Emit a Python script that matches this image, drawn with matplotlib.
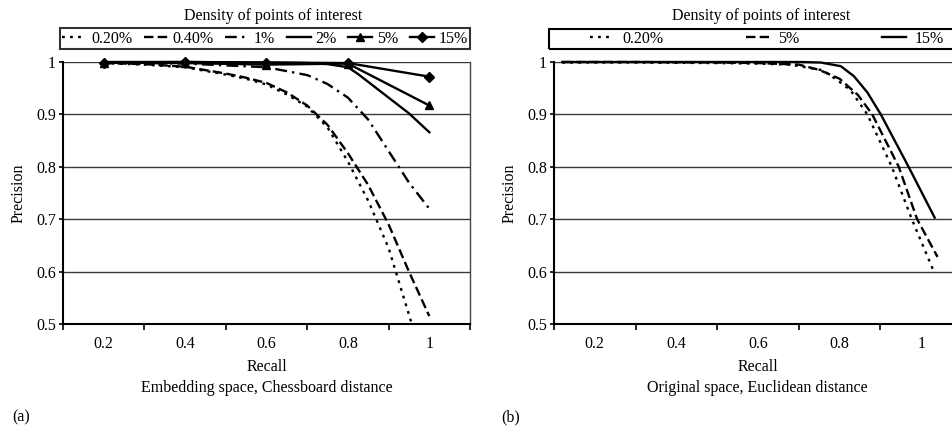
import matplotlib.pyplot as plt
from matplotlib.patches import Rectangle
from matplotlib.ticker import FixedLocator

plt.rcParams['font.family'] = ['Liberation Serif', 'DejaVu Serif']
plt.rcParams['font.size'] = 11.5

# -------------------------------
# Data
# -------------------------------
# (a) Embedding space, Chessboard distance
a_r_020 = [0.2, 0.3, 0.4, 0.5, 0.55, 0.6, 0.65, 0.7, 0.75, 0.8, 0.85, 0.9, 0.955]
a_p_020 = [0.998, 0.995, 0.99, 0.976, 0.968, 0.957, 0.938, 0.915, 0.875, 0.81, 0.735, 0.645, 0.505]

a_r_040 = [0.2, 0.3, 0.4, 0.5, 0.55, 0.6, 0.65, 0.7, 0.75, 0.8, 0.85, 0.9, 0.95, 1.0]
a_p_040 = [0.998, 0.996, 0.991, 0.978, 0.97, 0.96, 0.942, 0.917, 0.88, 0.826, 0.765, 0.69, 0.6, 0.515]

a_r_1 = [0.2, 0.4, 0.6, 0.7, 0.75, 0.8, 0.85, 0.9, 0.95, 1.0]
a_p_1 = [0.999, 0.997, 0.99, 0.975, 0.958, 0.932, 0.89, 0.83, 0.77, 0.72]

a_r_2 = [0.2, 0.4, 0.6, 0.7, 0.75, 0.8, 0.825, 0.85, 0.9, 0.95, 1.0]
a_p_2 = [1.0, 1.0, 0.999, 0.998, 0.996, 0.99, 0.977, 0.962, 0.932, 0.902, 0.866]

a_r_5 = [0.2, 0.4, 0.6, 0.8, 1.0]
a_p_5 = [0.999, 0.998, 0.995, 0.997, 0.917]

a_r_15 = [0.2, 0.4, 0.6, 0.8, 1.0]
a_p_15 = [0.999, 1.0, 0.999, 0.998, 0.972]

# (b) Original space, Euclidean distance
b_r_020 = [0.12, 0.3, 0.5, 0.6, 0.68, 0.76, 0.8, 0.827, 0.868, 0.928, 0.977, 1.031]
b_p_020 = [0.999, 0.999, 0.998, 0.997, 0.995, 0.984, 0.962, 0.946, 0.9, 0.8, 0.7, 0.6]

b_r_5 = [0.12, 0.3, 0.5, 0.6, 0.7, 0.75, 0.8, 0.845, 0.88, 0.945, 0.99, 1.04]
b_p_5 = [1.0, 1.0, 0.999, 0.998, 0.995, 0.985, 0.968, 0.937, 0.9, 0.8, 0.7, 0.628]

b_r_15 = [0.12, 0.3, 0.5, 0.7, 0.754, 0.803, 0.835, 0.868, 0.901, 0.969, 1.033]
b_p_15 = [1.0, 1.0, 1.0, 1.0, 0.999, 0.992, 0.973, 0.942, 0.9, 0.8, 0.703]

x_labels = [0.2, 0.4, 0.6, 0.8, 1.0]
x_label_text = ["0.2", "0.4", "0.6", "0.8", "1"]
x_tick_marks = [0.1, 0.3, 0.5, 0.7, 0.9, 1.1]
y_ticks = [0.5, 0.6, 0.7, 0.8, 0.9, 1.0]
y_tick_text = ["0.5", "0.6", "0.7", "0.8", "0.9", "1"]

# line styles
LW = 1.7
dotted = dict(color="black", lw=LW, dashes=(1.2, 2.2))
longdash = dict(color="black", lw=LW, dashes=(4.0, 1.8))
dashdot = dict(color="black", lw=LW, dashes=(5.0, 2.2, 1.0, 2.2))
solid = dict(color="black", lw=LW)

fig = plt.figure(figsize=(9.52, 4.33), dpi=100)
W, H = 952, 433


def box(x0, y0, x1, y1):
    return [x0 / W, 1 - y1 / H, (x1 - x0) / W, (y1 - y0) / H]


def style_axes(ax):
    ax.set_xlim(0.1, 1.1)
    ax.set_ylim(0.5, 1.0)
    ax.xaxis.set_major_locator(FixedLocator(x_tick_marks))
    ax.xaxis.set_minor_locator(FixedLocator(x_labels))
    ax.set_xticklabels([], minor=False)
    ax.set_xticklabels(x_label_text, minor=True)
    ax.tick_params(axis="x", which="major", direction="out", length=4, width=1.2)
    ax.tick_params(axis="x", which="minor", length=0, pad=9)
    ax.set_yticks(y_ticks)
    ax.set_yticklabels(y_tick_text)
    ax.tick_params(axis="y", direction="out", length=3, width=1.2, pad=2)
    ax.grid(axis="y", color="#3a3a3a", lw=1.0)
    ax.set_axisbelow(True)
    ax.spines["left"].set_linewidth(1.5)
    ax.spines["bottom"].set_linewidth(1.5)
    ax.spines["top"].set_visible(False)
    ax.spines["right"].set_color("#444444")
    ax.spines["right"].set_linewidth(1.0)
    ax.set_ylabel("Precision", labelpad=7)
    ax.set_xlabel("Recall", labelpad=5)


# -------------------------------
# Panel (a)
# -------------------------------
ax1 = fig.add_axes(box(63, 62, 470, 324))
style_axes(ax1)
ax1.plot(a_r_020, a_p_020, label="0.20%", clip_on=False, **dotted)
ax1.plot(a_r_040, a_p_040, label="0.40%", clip_on=False, **longdash)
ax1.plot(a_r_1, a_p_1, label="1%", clip_on=False, **dashdot)
ax1.plot(a_r_2, a_p_2, label="2%", clip_on=False, **solid)
ax1.plot(a_r_5, a_p_5, label="5%", marker="^", ms=6, clip_on=False, **solid)
ax1.plot(a_r_15, a_p_15, label="15%", marker="D", ms=5, clip_on=False, **solid)

leg1 = ax1.legend(loc="lower left", bbox_to_anchor=(60 / W, 1 - 49 / H, 410 / W, 20 / H),
                  bbox_transform=fig.transFigure, mode="expand", ncol=6,
                  handlelength=1.5, handletextpad=0.3, columnspacing=0.5,
                  borderpad=0.15, borderaxespad=0, fancybox=False, frameon=True)
leg1.get_frame().set_edgecolor("black")
leg1.get_frame().set_linewidth(1.5)
fig.text(273 / W, 1 - 16 / H, "Density of points of interest", ha="center", va="center")
fig.text(267 / W, 1 - 388 / H, "Embedding space, Chessboard distance", ha="center", va="center")
fig.text(12 / W, 1 - 417 / H, "(a)", ha="left", va="center")

# -------------------------------
# Panel (b)
# -------------------------------
ax2 = fig.add_axes(box(554, 62, 962, 324))
style_axes(ax2)
ax2.plot(b_r_020, b_p_020, label="0.20%", clip_on=False, **dotted)
ax2.plot(b_r_5, b_p_5, label="5%", clip_on=False, **longdash)
ax2.plot(b_r_15, b_p_15, label="15%", clip_on=False, **solid)

# legend box runs past the right edge of the picture, as in the original
fig.patches.append(Rectangle((549 / W, 1 - 49 / H), 414 / W, 20 / H, transform=fig.transFigure,
                             fill=False, edgecolor="black", lw=1.5))
leg2 = ax2.legend(loc="center left", bbox_to_anchor=(590 / W, 1 - 39 / H),
                  bbox_transform=fig.transFigure, ncol=3,
                  handlelength=1.45, handletextpad=0.55, columnspacing=5.2,
                  borderpad=0, borderaxespad=0, frameon=False)
fig.text(761 / W, 1 - 16 / H, "Density of points of interest", ha="center", va="center")
fig.text(757 / W, 1 - 388 / H, "Original space, Euclidean distance", ha="center", va="center")
fig.text(501 / W, 1 - 417 / H, "(b)", ha="left", va="center")

plt.savefig("out.png", dpi=100)
